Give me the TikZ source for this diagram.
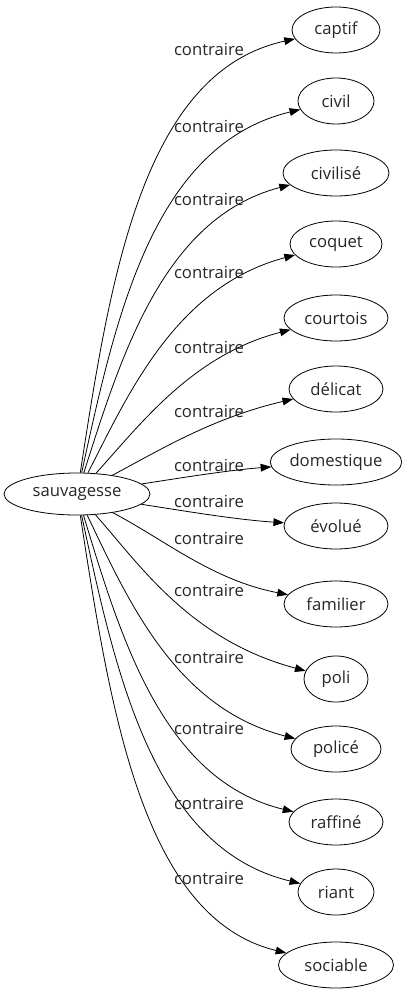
\documentclass[tikz,border=0pt]{standalone}
\usepackage{fontspec}
\setmainfont{Open Sans}
\usetikzlibrary{arrows.meta,shapes.geometric}
\begin{document}
\begin{tikzpicture}[x=0.75pt,y=-0.75pt,
  every node/.style={font=\fontsize{12.5}{14}\selectfont, text=black!85},
  nd/.style={draw, ellipse, line width=0.6pt, inner sep=0pt},
  lbl/.style={inner sep=0pt},
  edge/.style={line width=0.6pt, -{Triangle[length=8pt,width=5.8pt]}}]
\useasboundingbox (0,0) rectangle (417,995);
\node[nd, minimum width=146*0.75pt, minimum height=42*0.75pt] (s) at (77,494) {sauvagesse};
\foreach \n/\t/\y/\w in {a/captif/30/88, b/civil/101/76, c/civilisé/173/106, d/coquet/244/92,
  e/courtois/318/104, f/délicat/389/94, g/domestique/462/128, h/évolué/526/104,
  i/familier/604/104, j/poli/679/64, k/policé/749/90, l/raffiné/822/94,
  m/riant/892/76, n/sociable/965/115}{
  \node[nd, minimum width=\w*0.75pt, minimum height=46*0.75pt] (\n) at (336,\y) {\t};
}
\draw[edge] (s) .. controls (110,280) and (142,72) .. (a);
\draw[edge] (s) .. controls (115,320) and (152,145) .. (b);
\draw[edge] (s) .. controls (120,360) and (162,218) .. (c);
\draw[edge] (s) .. controls (128,395) and (175,287) .. (d);
\draw[edge] (s) .. controls (140,425) and (192,355) .. (e);
\draw[edge] (s) .. controls (160,450) and (212,418) .. (f);
\draw[edge] (s) .. controls (180,478) and (230,470) .. (g);
\draw[edge] (s) .. controls (190,512) and (240,520) .. (h);
\draw[edge] (s) .. controls (165,540) and (212,580) .. (i);
\draw[edge] (s) .. controls (140,565) and (190,640) .. (j);
\draw[edge] (s) .. controls (128,600) and (175,708) .. (k);
\draw[edge] (s) .. controls (120,635) and (162,780) .. (l);
\draw[edge] (s) .. controls (115,670) and (152,848) .. (m);
\draw[edge] (s) .. controls (110,708) and (142,918) .. (n);
\foreach \y [count=\k] in {49,126,199,272,347,411,465,501,538,590,657,728,803,878}{
  \node[lbl] (L\k) at (209,\y) {contraire};
}
\end{tikzpicture}
\end{document}
